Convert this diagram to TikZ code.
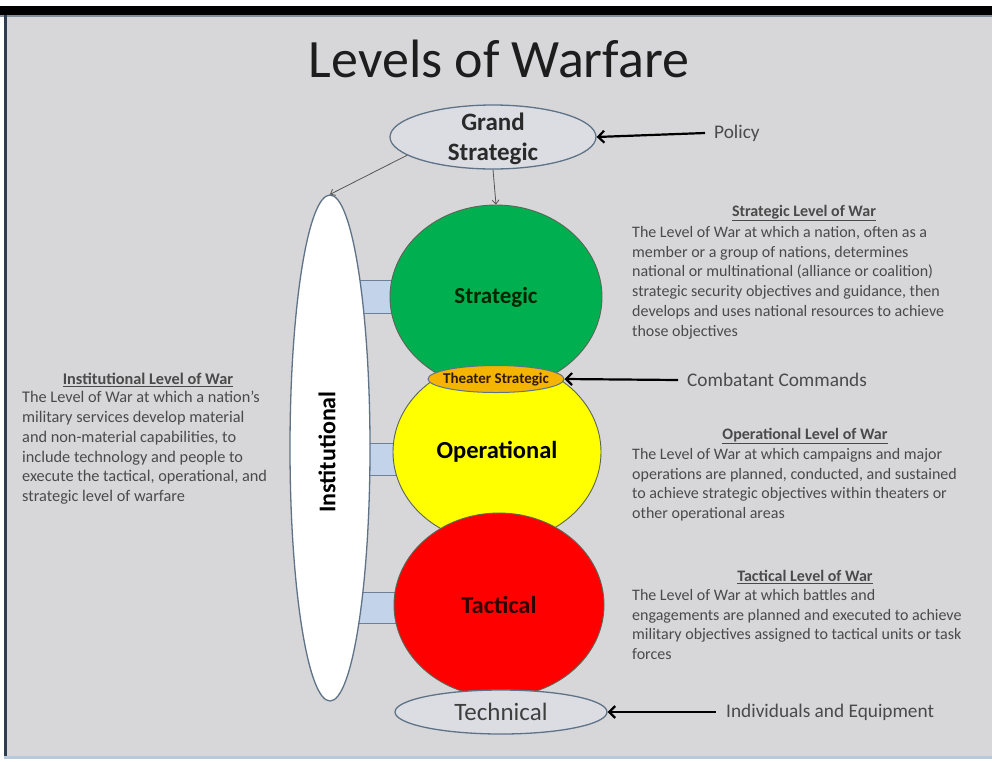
\documentclass[tikz,border=0pt]{standalone}
\usepackage{fontspec}
\setmainfont{Carlito}
\usetikzlibrary{shapes.geometric,arrows.meta}

\definecolor{bggray}{HTML}{D7D7D9}
\definecolor{framedark}{HTML}{2E3E50}
\definecolor{framelight}{HTML}{B9C9DD}
\definecolor{edgeblue}{HTML}{5F7388}
\definecolor{barfill}{HTML}{C3D3EA}
\definecolor{barline}{HTML}{6C8099}
\definecolor{gsfill}{HTML}{DCDDE2}
\definecolor{stratgreen}{HTML}{00B050}
\definecolor{opyellow}{HTML}{FFFF00}
\definecolor{tacred}{HTML}{FF0000}
\definecolor{theaterfill}{HTML}{F5B400}
\definecolor{circstroke}{HTML}{5A6656}
\definecolor{bodygray}{HTML}{4A4A4A}
\definecolor{darktext}{HTML}{2A2A2A}

\tikzset{
  ellnode/.style={ellipse, draw=edgeblue, line width=1.3pt, inner sep=0pt},
  levelnode/.style={ellipse, draw=circstroke, line width=0.9pt, inner sep=0pt},
  levellabel/.style={font=\fontsize{24.5}{28}\selectfont\bfseries},
  sidelabel/.style={font=\fontsize{19.3}{22}\selectfont, text=bodygray, inner sep=0pt, anchor=west},
  bigarrow/.style={draw=black, line width=2.2pt, -{Straight Barb[length=6pt,width=12pt]}},
  thinarrow/.style={draw=darktext!80, line width=0.8pt, -{Straight Barb[length=4pt,width=7pt]}},
  desctitle/.style={font=\fontsize{16}{20}\selectfont\bfseries, text=bodygray, inner sep=0pt},
  descbody/.style={font=\fontsize{16}{19.8}\selectfont, text=bodygray, align=left, inner sep=0pt, anchor=north west},
}

\begin{document}
\begin{tikzpicture}[x=1pt,y=-1pt]
\useasboundingbox (0,0) rectangle (992,761);

% slide background and frame
\fill[white] (0,0) rectangle (992,761);
\fill[bggray] (4,14) rectangle (992,757);
\fill[black] (0,6) rectangle (992,15);
\fill[framelight!70!black] (0,15) rectangle (992,17);
\fill[framedark] (4,15) rectangle (7,757);
\fill[framelight] (4,756) rectangle (992,759);

% title
\node[font=\fontsize{54}{60}\selectfont, text=darktext!70!black] (title) at (499,59) {Levels of Warfare};

% connector bars between the institutional level and each level of war
\fill[barfill] (355,280) rectangle (410,313);
\draw[barline, line width=1pt] (355,280) -- (410,280) (355,313) -- (410,313);
\fill[barfill] (355,443) rectangle (410,475);
\draw[barline, line width=1pt] (355,443) -- (410,443) (355,475) -- (410,475);
\fill[barfill] (355,592) rectangle (410,623);
\draw[barline, line width=1pt] (355,592) -- (410,592) (355,623) -- (410,623);

% main shapes
\node[ellnode, fill=gsfill, minimum width=206pt, minimum height=64pt] (grand) at (493,137) {};
\node[ellnode, fill=white, minimum width=80pt, minimum height=506pt] (inst) at (330,448) {};

\node[levelnode, fill=opyellow, minimum width=208pt, minimum height=182pt] (oper) at (497,452) {};
\node[levelnode, fill=stratgreen, minimum width=212pt, minimum height=184pt] (strat) at (496,297) {};
\node[levelnode, fill=tacred, minimum width=210pt, minimum height=184pt] (tact) at (499,605) {};
\node[ellnode, line width=1pt, fill=theaterfill, minimum width=136pt, minimum height=27pt] (theater) at (496,379) {};
\node[ellnode, fill=gsfill, minimum width=212pt, minimum height=44pt] (tech) at (501,712) {};

% labels of the shapes
\node[font=\fontsize{25}{30}\selectfont\bfseries, align=center, text=darktext] (grandtxt) at ([yshift=-1.5pt]grand.center) {Grand\\Strategic};
\node[font=\fontsize{24}{28}\selectfont\bfseries, text=black, rotate=90] (insttxt) at (327,452) {Institutional};
\node[levellabel, font=\fontsize{23}{28}\selectfont\bfseries, text=black!85!green] (strattxt) at (strat.center) {Strategic};
\node[levellabel, text=black] (opertxt) at (oper.center) {Operational};
\node[levellabel, text=black!80!red] (tacttxt) at (tact.center) {Tactical};
\node[font=\fontsize{15}{17}\selectfont\bfseries, text=black!80!orange] (theatertxt) at (theater.center) {Theater Strategic};
\node[font=\fontsize{25}{28}\selectfont, text=darktext!90] (techtxt) at (tech.center) {Technical};

% side labels with their arrows
\node[sidelabel] (policy) at (714,133) {Policy};
\node[sidelabel] (combat) at (687,380) {Combatant Commands};
\node[sidelabel] (indiv) at (726,712) {Individuals and Equipment};
\draw[bigarrow] ([xshift=-9pt]policy.west) -- (grand.east);
\draw[bigarrow] ([xshift=-9pt]combat.west) -- (theater.east);
\draw[bigarrow] ([xshift=-10pt]indiv.west) -- (tech.east);

% flow from the grand strategic level
\draw[thinarrow] (grand.192) -- (inst.north);
\draw[thinarrow] (grand.south) -- (strat.north);

% descriptions
\node[desctitle] (sttitle) at (804,213) {\underline{Strategic Level of War}};
\node[descbody] (stbody) at (632,226) {The Level of War at which a nation, often as a\\
member or a group of nations, determines\\
national or multinational (alliance or coalition)\\
strategic security objectives and guidance, then\\
develops and uses national resources to achieve\\
those objectives};

\node[desctitle, font=\fontsize{16.3}{20}\selectfont\bfseries] (intitle) at (148,380) {\underline{Institutional Level of War}};
\node[descbody, font=\fontsize{16.3}{19.8}\selectfont] (inbody) at (22,391) {The Level of War at which a nation’s\\
military services develop material\\
and non-material capabilities, to\\
include technology and people to\\
execute the tactical, operational, and\\
strategic level of warfare};

\node[desctitle] (optitle) at (805,436) {\underline{Operational Level of War}};
\node[descbody] (opbody) at (632,448) {The Level of War at which campaigns and major\\
operations are planned, conducted, and sustained\\
to achieve strategic objectives within theaters or\\
other operational areas};

\node[desctitle] (tatitle) at (805,577) {\underline{Tactical Level of War}};
\node[descbody] (tabody) at (632,589) {The Level of War at which battles and\\
engagements are planned and executed to achieve\\
military objectives assigned to tactical units or task\\
forces};
\end{tikzpicture}
\end{document}
